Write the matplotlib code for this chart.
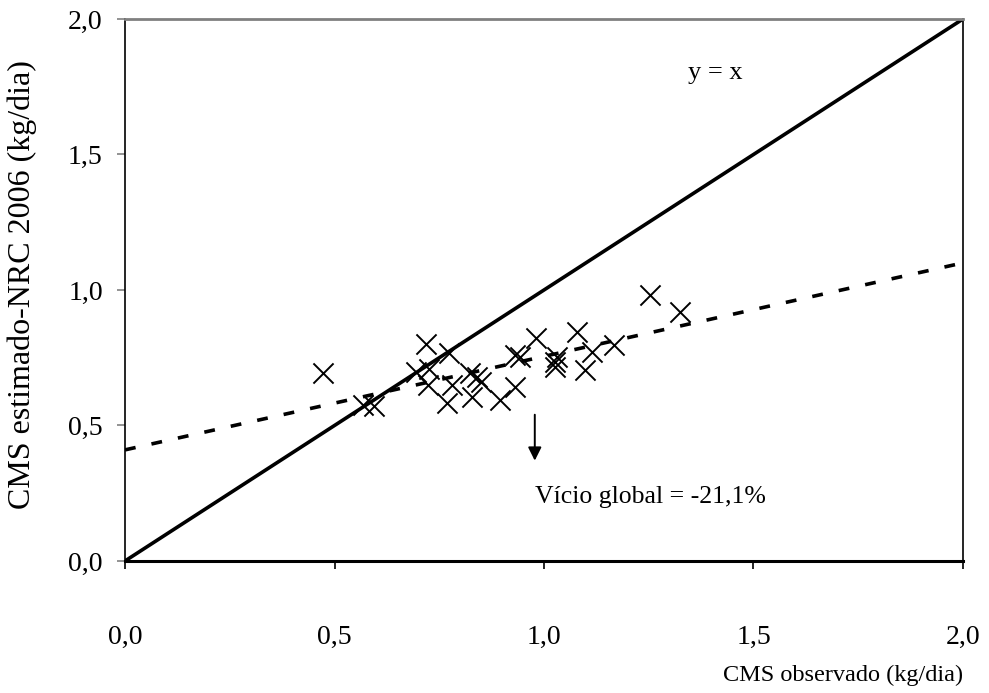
import numpy as np
import matplotlib.pyplot as plt

cms_obs = [0.473, 0.568, 0.594, 0.694, 0.718, 0.773, 0.726, 0.723, 0.780, 0.768,
           0.823, 0.840, 0.850, 0.828, 0.895, 0.981, 0.931, 0.943, 1.026, 1.026,
           1.031, 1.079, 1.115, 1.098, 0.931, 1.167, 1.253, 1.325]
cms_est = [0.694, 0.576, 0.572, 0.697, 0.801, 0.768, 0.708, 0.649, 0.649, 0.583,
           0.694, 0.680, 0.660, 0.605, 0.594, 0.823, 0.760, 0.753, 0.734, 0.716,
           0.753, 0.845, 0.771, 0.705, 0.642, 0.797, 0.982, 0.919]

# regression line ends
reg_x = [0.0, 2.0]
reg_y = [0.41, 1.10]

ticks = [0.0, 0.5, 1.0, 1.5, 2.0]
tick_labels = ["0,0", "0,5", "1,0", "1,5", "2,0"]

plt.rcParams['font.family'] = ['Liberation Serif', 'DejaVu Serif']

fig = plt.figure(figsize=(9.89, 6.93), dpi=100)
ax = fig.add_axes([0.1264, 0.1905, 0.8473, 0.7821])

ax.plot([0, 2], [0, 2], color='black', lw=2.6, solid_capstyle='butt')
ax.plot(reg_x, reg_y, color='black', lw=2.6, linestyle=(0, (3, 4.5)))
ax.scatter(cms_obs, cms_est, marker='x', s=210, color='black', linewidths=1.4, zorder=3)

ax.annotate('', xy=(0.978, 0.36), xytext=(0.978, 0.55),
            arrowprops=dict(arrowstyle='-|>', color='black', lw=1.4,
                            mutation_scale=20))
ax.text(0.979, 0.236, 'Vício global = -21,1%', fontsize=18.5, va='center', ha='left')
ax.text(1.344, 1.80, 'y = x', fontsize=19, va='center', ha='left')

ax.set_xlim(0, 2)
ax.set_ylim(0, 2)
ax.set_xticks(ticks)
ax.set_xticklabels(tick_labels)
ax.set_yticks(ticks)
ax.set_yticklabels(tick_labels)
ax.tick_params(axis='x', direction='out', length=6, width=1.2, pad=40, labelsize=20)
ax.tick_params(axis='y', direction='out', length=6, width=1.2, pad=10, labelsize=20,
               color='gray')

ax.spines['top'].set_color('gray')
ax.spines['top'].set_linewidth(2)
ax.spines['bottom'].set_linewidth(2.2)
ax.spines['left'].set_linewidth(1.2)
ax.spines['right'].set_linewidth(1.2)

fig.text(0.023, 0.59, 'CMS estimado-NRC 2006 (kg/dia)', fontsize=23,
         rotation=90, ha='center', va='center')
fig.text(0.852, 0.025, 'CMS observado (kg/dia)', fontsize=17.5, ha='center', va='center')

fig.savefig('out.png', dpi=100)
